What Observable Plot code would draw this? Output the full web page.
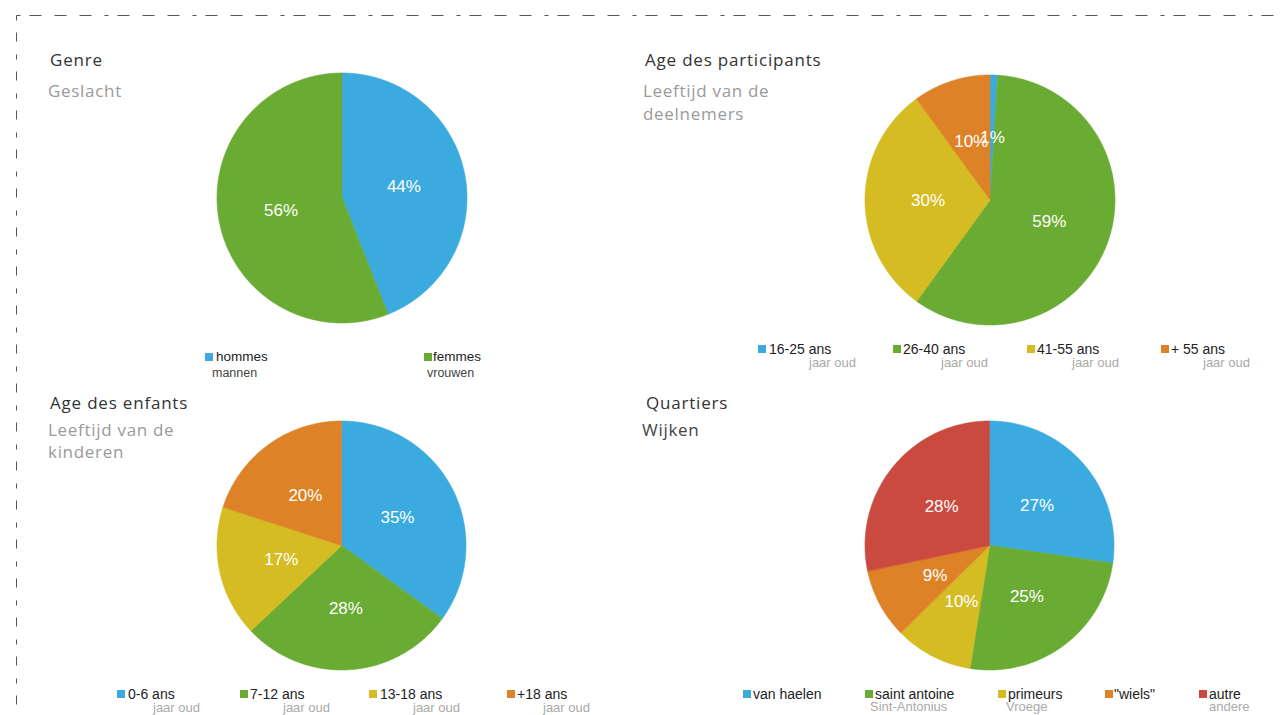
<!DOCTYPE html>
<html>
<head>
<meta charset="utf-8">
<script src="https://cdn.jsdelivr.net/npm/d3@7"></script>
<script src="https://cdn.jsdelivr.net/npm/@observablehq/plot@0.6"></script>
<style>
  html, body { margin: 0; padding: 0; background: #fff; }
  #page { position: relative; width: 1284px; height: 715px; overflow: hidden; background: #fff; }
  .abs { position: absolute; white-space: nowrap; }
  .title { font-family: "Open Sans", Lato, sans-serif; font-size: 17px; letter-spacing: 0.8px; color: #333; line-height: 23px; }
  .sub { font-family: "Open Sans", Lato, sans-serif; font-size: 17px; letter-spacing: 0.7px; color: #9a9a9a; line-height: 23px; }
  .lg { font-family: "Liberation Sans", Arial, sans-serif; font-size: 14px; color: #222; line-height: 12px; }
  .lgs { font-family: "Liberation Sans", Arial, sans-serif; font-size: 13px; color: #aaa; line-height: 12px; }
  .sw { position: absolute; width: 8px; height: 8px; }
</style>
</head>
<body>
<div id="page">
  <svg class="abs" style="left:0;top:0" width="1284" height="715">
    <line x1="16.5" y1="15.5" x2="1284" y2="15.5" stroke="#555" stroke-width="1" stroke-dasharray="4 9 12 13 12 13 12 13"/>
    <line x1="16.5" y1="15.5" x2="16.5" y2="715" stroke="#555" stroke-width="1" stroke-dasharray="5 12 9 13"/>
  </svg>
</div>
<script>
// ---------- data ----------
const colorsFive = ["#3aaadf", "#6aab33", "#d4bc22", "#de8227", "#cb4a3f"];

const genreTitle = ["Genre"];
const genreSubtitle = ["Geslacht"];
const genreLabels = ["hommes", "femmes"];
const genreSubLabels = ["mannen", "vrouwen"];
const genreValues = [44, 56];

const ageTitle = ["Age des participants"];
const ageSubtitle = ["Leeftijd van de", "deelnemers"];
const ageLabels = ["16-25 ans", "26-40 ans", "41-55 ans", "+ 55 ans"];
const ageSubLabels = ["jaar oud", "jaar oud", "jaar oud", "jaar oud"];
const ageValues = [1, 59, 30, 10];

const kidsTitle = ["Age des enfants"];
const kidsSubtitle = ["Leeftijd van de", "kinderen"];
const kidsLabels = ["0-6 ans", "7-12 ans", "13-18 ans", "+18 ans"];
const kidsSubLabels = ["jaar oud", "jaar oud", "jaar oud", "jaar oud"];
const kidsValues = [35, 28, 17, 20];

const quartTitle = ["Quartiers"];
const quartSubtitle = ["Wijken"];
const quartLabels = ["van haelen", "saint antoine", "primeurs", "\"wiels\"", "autre"];
const quartSubLabels = ["", "Sint-Antonius", "Vroege", "", "andere"];
const quartValues = [27, 25, 10, 9, 28];

// ---------- layout (positions only) ----------
const page = document.getElementById("page");

function addText(cls, txt, left, top, extra) {
  const d = document.createElement("div");
  d.className = "abs " + cls;
  d.textContent = txt;
  d.style.left = left + "px";
  d.style.top = top + "px";
  if (extra) Object.assign(d.style, extra);
  page.appendChild(d);
  return d;
}

function pie(values, labels, colors, r) {
  const arcs = d3.pie().sort(null).value(d => d)(values);
  const pts = [];
  arcs.forEach((a, i) => {
    const n = Math.max(2, Math.ceil((a.endAngle - a.startAngle) / (Math.PI / 360)));
    for (let k = 0; k <= n; k++) {
      const t = a.startAngle + (a.endAngle - a.startAngle) * k / n;
      pts.push({key: labels[i], x: Math.sin(t), y: Math.cos(t)});
    }
  });
  const lab = arcs.map((a, i) => {
    const m = (a.startAngle + a.endAngle) / 2;
    return {x: 0.5 * Math.sin(m), y: 0.5 * Math.cos(m), text: values[i] + "%"};
  });
  return Plot.plot({
    width: 2 * r, height: 2 * r, margin: 0,
    style: {background: "transparent", overflow: "visible"},
    x: {domain: [-1, 1], axis: null},
    y: {domain: [-1, 1], axis: null},
    color: {domain: labels, range: colors},
    marks: [
      Plot.area(pts, {x1: "x", y1: "y", x2: d => 0, y2: d => 0, z: "key", fill: "key", stroke: "key", strokeWidth: 0.6, curve: "linear"}),
      Plot.text(lab, {x: "x", y: "y", text: "text", fill: "white", fontSize: 17, fontFamily: "Liberation Sans, Arial, sans-serif"})
    ]
  });
}

function placePie(values, labels, colors, cx, cy, r) {
  const svg = pie(values, labels, colors, r);
  const wrap = document.createElement("div");
  wrap.className = "abs";
  wrap.style.left = (cx - r) + "px";
  wrap.style.top = (cy - r) + "px";
  wrap.appendChild(svg);
  page.appendChild(wrap);
}

function legend(labels, subs, colors, swX, labX, y, subX, subY, opts = {}) {
  labels.forEach((l, i) => {
    const s = document.createElement("div");
    s.className = "sw";
    s.style.left = swX[i] + "px";
    s.style.top = (y - 4) + "px";
    s.style.background = colors[i];
    page.appendChild(s);
    addText("lg", l, labX[i], y - 6, opts.labStyle);
    if (subs[i]) addText("lgs", subs[i], subX[i], subY - 6, opts.subStyle);
  });
}

// Titles
addText("title", genreTitle[0], 50, 48);
genreSubtitle.forEach((t, i) => addText("sub", t, 48, 79 + 23 * i));
addText("title", ageTitle[0], 645, 48);
ageSubtitle.forEach((t, i) => addText("sub", t, 643, 79 + 23 * i));
addText("title", kidsTitle[0], 50, 391);
kidsSubtitle.forEach((t, i) => addText("sub", t, 48, 418 + 22 * i));
addText("title", quartTitle[0], 646, 391);
quartSubtitle.forEach((t, i) => addText("sub", t, 642, 418 + 23 * i, {color: "#444"}));

// Pies
placePie(genreValues, genreLabels, colorsFive.slice(0, 2), 342, 197.5, 125);
placePie(ageValues, ageLabels, colorsFive.slice(0, 4), 989.5, 199.5, 125);
placePie(kidsValues, kidsLabels, colorsFive.slice(0, 4), 341.5, 545.5, 124.5);
placePie(quartValues, quartLabels, colorsFive, 989.5, 545.5, 124.5);

// Legends
legend(genreLabels, genreSubLabels, colorsFive, [205, 424], [216, 433], 357, [212, 427], 373,
  {labStyle: {fontSize: "13.5px"}, subStyle: {color: "#444", fontSize: "12.5px"}});
legend(ageLabels, ageSubLabels, colorsFive, [758, 893, 1027, 1161], [769, 903, 1037, 1171], 349, [809, 941, 1072, 1203], 363);
legend(kidsLabels, kidsSubLabels, colorsFive, [117, 240, 369, 507], [128, 250, 380, 517], 694, [153, 283, 413, 543], 708);
legend(quartLabels, quartSubLabels, colorsFive, [743, 865, 998, 1105, 1199], [753, 875, 1008, 1114, 1209], 694, [870, 870, 1006, 0, 1209], 707);
</script>
</body>
</html>
